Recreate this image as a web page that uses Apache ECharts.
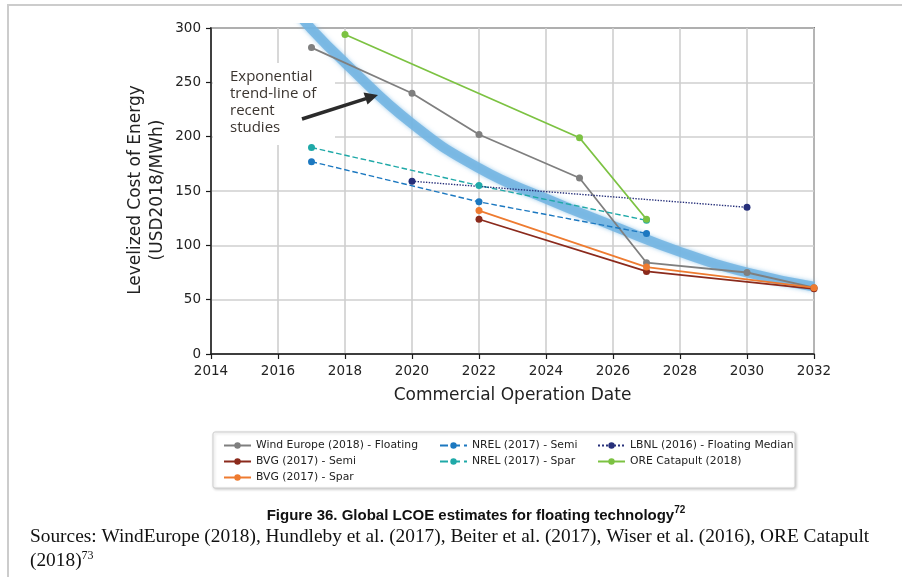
<!DOCTYPE html>
<html>
<head>
<meta charset="utf-8">
<script src="https://cdn.jsdelivr.net/npm/echarts@6/dist/echarts.min.js"></script>
<style>
  html, body { margin: 0; padding: 0; background: #fff; }
  #chart { width: 902px; height: 577px; }
</style>
</head>
<body>
<div id="chart"></div>
<script>
// values
const xTicks = [2014, 2016, 2018, 2020, 2022, 2024, 2026, 2028, 2030, 2032];

const windEurope = [[2017, 282], [2020, 240], [2022, 202], [2025, 162], [2027, 84], [2030, 75], [2032, 61]];
const bvgSemi = [[2022, 124], [2027, 76], [2032, 60]];
const bvgSpar = [[2022, 132], [2027, 80], [2032, 61]];
const nrelSemi = [[2017, 177], [2022, 140], [2027, 111]];
const nrelSpar = [[2017, 190], [2022, 155], [2027, 123]];
const lbnl = [[2020, 159], [2030, 135]];
const oreCatapult = [[2018, 294], [2025, 199], [2027, 124]];

// blue band: exponential trend of recent studies (read at points along the band)
const trend = [[2016.5, 318], [2017, 299], [2018, 268], [2020, 212], [2022, 171], [2024, 143], [2026, 118], [2028, 94], [2030, 75], [2032, 62]];

const names = [
  'Wind Europe (2018) - Floating',
  'BVG (2017) - Semi',
  'BVG (2017) - Spar',
  'NREL (2017) - Semi',
  'NREL (2017) - Spar',
  'LBNL (2016) - Floating Median',
  'ORE Catapult (2018)'
];

const colors = ['#7f7f7f', '#8b2a1c', '#ee7b30', '#1c78c0', '#1fa9a8', '#27307a', '#7cc242'];
const lineTypes = ['solid', 'solid', 'solid', 'dashed', 'dashed', 'dotted', 'solid'];
const seriesData = [windEurope, bvgSemi, bvgSpar, nrelSemi, nrelSpar, lbnl, oreCatapult];

const myChart = echarts.init(document.getElementById('chart'));

const series = [{
  name: 'trend',
  type: 'line',
  data: trend,
  smooth: true,
  symbol: 'none',
  silent: true,
  z: 3,
  lineStyle: {
    color: '#72b4e2',
    width: 10,
    opacity: 0.85,
    shadowBlur: 4,
    shadowColor: 'rgba(114,180,226,0.8)'
  }
}];

names.forEach((n, i) => {
  series.push({
    name: n,
    type: 'line',
    data: seriesData[i],
    symbol: 'circle',
    symbolSize: 7,
    z: 4,
    itemStyle: { color: colors[i] },
    lineStyle: {
      color: colors[i],
      width: lineTypes[i] === 'solid' ? 1.8 : 1.4,
      type: lineTypes[i]
    }
  });
});

const legendBase = {
  orient: 'vertical',
  top: 435,
  itemWidth: 27,
  itemHeight: 8,
  itemGap: 5,
  textStyle: { fontFamily: 'DejaVu Sans', fontSize: 10.8, color: '#222' }
};

const option = {
  animation: false,
  backgroundColor: '#fff',
  grid: {
    left: 211, top: 28, right: 88, bottom: 223,
    show: true,
    borderColor: '#1a1a1a',
    borderWidth: 1.5
  },
  legend: [
    Object.assign({}, legendBase, { left: 218, data: names.slice(0, 3) }),
    Object.assign({}, legendBase, { left: 434, data: names.slice(3, 5) }),
    Object.assign({}, legendBase, { left: 592, data: names.slice(5, 7) })
  ],
  xAxis: {
    type: 'value',
    min: 2014,
    max: 2032,
    interval: 2,
    name: 'Commercial Operation Date',
    nameLocation: 'middle',
    nameGap: 33,
    nameTextStyle: { fontFamily: 'DejaVu Sans', fontSize: 17, color: '#222' },
    axisLine: { show: true, lineStyle: { color: '#1a1a1a', width: 1.5 } },
    axisTick: { show: true, inside: false, length: 5, lineStyle: { color: '#1a1a1a', width: 1.2 } },
    axisLabel: {
      fontFamily: 'DejaVu Sans', fontSize: 13.5, color: '#222', margin: 10,
      formatter: v => String(v)
    },
    splitLine: { show: true, lineStyle: { color: '#cfcfcf', width: 1.6 } }
  },
  yAxis: {
    type: 'value',
    min: 0,
    max: 300,
    interval: 50,
    axisLine: { show: true, lineStyle: { color: '#1a1a1a', width: 1.5 } },
    axisTick: { show: true, inside: false, length: 5, lineStyle: { color: '#1a1a1a', width: 1.2 } },
    axisLabel: { fontFamily: 'DejaVu Sans', fontSize: 13.5, color: '#222', margin: 10 },
    splitLine: { show: true, lineStyle: { color: '#cfcfcf', width: 1.6 } }
  },
  graphic: [
    // page frame
    { type: 'polyline', z: 0, shape: { points: [[8, 577], [8, 5], [902, 5]] },
      style: { stroke: '#cccccc', lineWidth: 2, fill: null } },
    // y axis title
    { type: 'text', x: 147, y: 190, rotation: Math.PI / 2, z: 5,
      style: {
        text: 'Levelized Cost of Energy\n(USD2018/MWh)',
        fontFamily: 'DejaVu Sans', fontSize: 17, lineHeight: 22,
        fill: '#222', align: 'center', verticalAlign: 'middle'
      } },
    // annotation box + text + arrow
    { type: 'rect', z: 1, shape: { x: 213, y: 63, width: 122, height: 82 }, style: { fill: '#fff' } },
    { type: 'text', x: 230, y: 68, z: 5,
      style: {
        text: 'Exponential\ntrend-line of\nrecent\nstudies',
        fontFamily: 'Open Sans', fontSize: 15, lineHeight: 17,
        fill: '#3b3530', align: 'left', verticalAlign: 'top'
      } },
    { type: 'line', z: 6, shape: { x1: 302, y1: 119, x2: 366, y2: 98.6 },
      style: { stroke: '#2b2b2b', lineWidth: 3.5 } },
    { type: 'polygon', z: 6, shape: { points: [[378, 95], [367.5, 104.5], [363.5, 92.5]] },
      style: { fill: '#2b2b2b' } },
    // legend frame
    { type: 'rect', z: 0, shape: { x: 213, y: 432, width: 582, height: 56, r: 2 },
      style: { fill: '#fff', stroke: '#cfcfcf', lineWidth: 1,
        shadowBlur: 3, shadowOffsetX: 1, shadowOffsetY: 1, shadowColor: 'rgba(0,0,0,0.2)' } },
    // caption
    { type: 'text', x: 476, y: 514, z: 5,
      style: {
        text: '{t|Figure 36. Global LCOE estimates for floating technology}{s|72}',
        align: 'center', verticalAlign: 'middle',
        rich: {
          t: { fontFamily: 'Liberation Sans Narrow, Liberation Sans', fontWeight: 'bold', fontSize: 15, fill: '#111', lineHeight: 18, verticalAlign: 'bottom' },
          s: { fontFamily: 'Liberation Sans Narrow, Liberation Sans', fontWeight: 'bold', fontSize: 10, fill: '#111', lineHeight: 18, verticalAlign: 'top' }
        }
      } },
    { type: 'text', x: 30, y: 537, z: 5,
      style: {
        text: 'Sources: WindEurope (2018), Hundleby et al. (2017), Beiter et al. (2017), Wiser et al. (2016), ORE Catapult',
        fontFamily: 'Liberation Serif', fontSize: 19.35, fill: '#111', align: 'left', verticalAlign: 'middle'
      } },
    { type: 'text', x: 30, y: 560, z: 5,
      style: {
        text: '{t|(2018)}{s|73}',
        align: 'left', verticalAlign: 'middle',
        rich: {
          t: { fontFamily: 'Liberation Serif', fontSize: 19.35, fill: '#111', lineHeight: 20, verticalAlign: 'bottom' },
          s: { fontFamily: 'Liberation Serif', fontSize: 12, fill: '#111', lineHeight: 20, verticalAlign: 'top' }
        }
      } }
  ],
  series: series
};

myChart.setOption(option);
</script>
</body>
</html>
